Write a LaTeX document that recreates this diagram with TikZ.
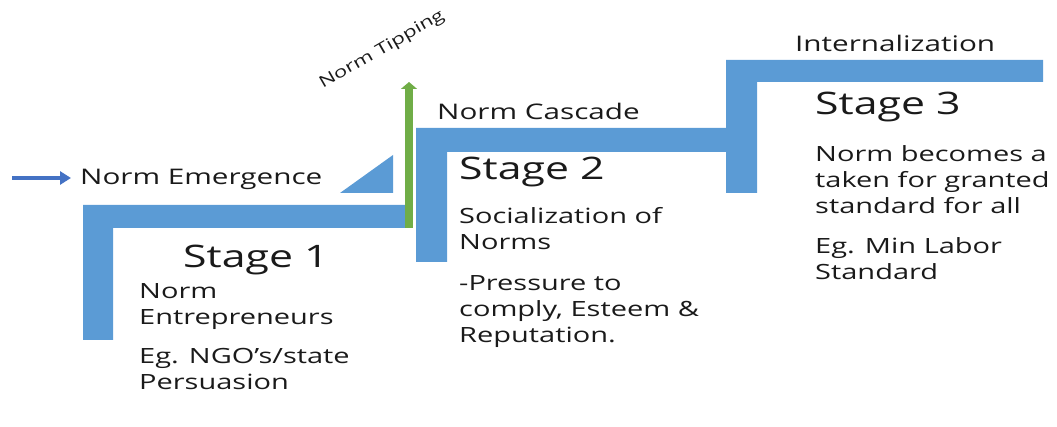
\documentclass[tikz,border=0pt]{standalone}
\usepackage{fontspec}
\setmainfont{Open Sans}[FakeStretch=1.38]
\usetikzlibrary{arrows.meta}
\definecolor{barblue}{HTML}{5B9BD5}
\definecolor{arrblue}{HTML}{4472C4}
\definecolor{tipgreen}{HTML}{70AD47}
\definecolor{txt}{HTML}{1A1A1A}
\tikzset{
  bar/.style={fill=barblue, draw=none},
  body/.style={inner sep=0pt, anchor=north west, align=left, text=txt, font=\fontsize{21}{26}\selectfont},
  title/.style={inner sep=0pt, anchor=west, text=txt, font=\fontsize{31}{34}\selectfont},
  label/.style={inner sep=0pt, anchor=west, text=txt, font=\fontsize{21.5}{24}\selectfont},
}
\begin{document}
\begin{tikzpicture}[x=1pt,y=-1pt]
\useasboundingbox (0,0) rectangle (1057,427);
% bars
\fill[bar] (83,205) -- (410,205) -- (410,228) -- (113,228) -- (113,340) -- (83,340) -- cycle;
\fill[bar] (416,128) -- (727,128) -- (727,152) -- (447,152) -- (447,262) -- (416,262) -- cycle;
\fill[bar] (726,60) -- (1043,60) -- (1043,82) -- (757,82) -- (757,193) -- (726,193) -- cycle;
\fill[bar] (340,193) -- (393,193) -- (393,155) -- cycle;
% green tipping arrow
\coordinate (gbot) at (409,228);
\coordinate (gtop) at (409,82);
\draw[tipgreen, line width=8pt, -{Triangle[width=16pt,length=7pt]}] (gbot) -- (gtop);
% texts
\node[label] (emerg) at (80,179) {Norm Emergence};
\coordinate (astart) at (12,178);
\draw[arrblue, line width=4.5pt, -{Triangle[width=13pt,length=11pt]}, shorten >=9pt] (astart) -- (emerg.west |- astart);
\node[inner sep=0pt, rotate=30, text=txt, font=\fontsize{16}{18}\selectfont] (tip) at (382,50) {Norm Tipping};
\node[label] (casc) at (437,111) {Norm Cascade};
\node[label] (intern) at (795,43) {Internalization};
\node[title] (s1) at (183,260) {Stage 1};
\node[title] (s2) at (459,172) {Stage 2};
\node[title] (s3) at (815,107) {Stage 3};
\node[body] (s1a) at (139,283) {Norm\\Entrepreneurs};
\node[body] (s1b) at (139,348) {Eg. NGO’s/state\\Persuasion};
\node[body] (s2a) at (459,207) {Socialization of\\Norms};
\node[body] (s2b) at (459,275) {-Pressure to\\comply, Esteem \&\\Reputation.};
\node[body] (s3a) at (815,145) {Norm becomes a\\taken for granted\\standard for all};
\node[body] (s3b) at (815,237) {Eg. Min Labor\\Standard};
\end{tikzpicture}
\end{document}
